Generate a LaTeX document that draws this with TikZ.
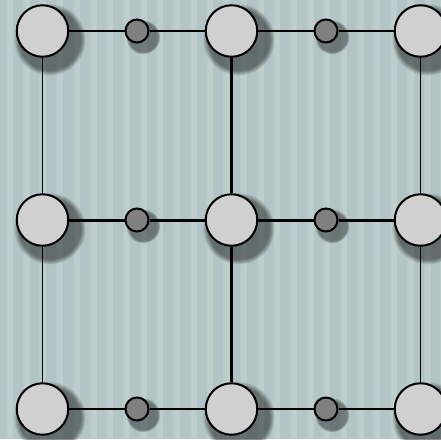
\documentclass[tikz,border=0pt]{standalone}
\usepackage{tikz}
\usetikzlibrary{positioning,shadows}
\definecolor{wallA}{RGB}{178,196,197}
\definecolor{wallB}{RGB}{189,206,205}
\definecolor{hubgray}{RGB}{208,208,208}
\definecolor{jointgray}{RGB}{128,128,128}

\begin{document}
\begin{tikzpicture}[
    x=1pt, y=-1pt,
    on grid, node distance=189pt,
    hub/.style={circle, draw=black, line width=2pt, fill=hubgray, minimum size=51.5pt, inner sep=0pt,
        circular drop shadow={shadow xshift=5pt, shadow yshift=-6pt, shadow scale=1.4,
            fill=black, opacity=0.45}},
    joint/.style={circle, draw=black, line width=2pt, fill=jointgray, minimum size=23pt, inner sep=0pt,
        circular drop shadow={shadow xshift=4pt, shadow yshift=-4pt, shadow scale=1.5,
            fill=black, opacity=0.4}},
    rim/.style={line width=1.8pt},
    spine/.style={line width=3pt}
]
    % striped wallpaper
    \useasboundingbox (0,0) rectangle (441,439);
    \clip (0,0) rectangle (441,439);
    \fill[wallA] (0,0) rectangle (441,439);
    \foreach \i in {0,...,26} {
        \fill[wallB, opacity=0.6] (\i*16.7+6,0) rectangle +(5,439);
        \fill[wallB] (\i*16.7+8,0) rectangle +(5,439);
    }

    % hubs on a 3x3 grid
    \node[hub] (a1) at (42.5,31) {};
    \node[hub, right=of a1] (a2) {};
    \node[hub, right=of a2] (a3) {};
    \node[hub, below=of a1] (b1) {};
    \node[hub, right=of b1] (b2) {};
    \node[hub, right=of b2] (b3) {};
    \node[hub, below=of b1] (c1) {};
    \node[hub, right=of c1] (c2) {};
    \node[hub, right=of c2] (c3) {};

    % joints halfway along each row
    \node[joint, right=94.5pt of a1] (ja) {};
    \node[joint, right=94.5pt of a2] (jb) {};
    \node[joint, right=94.5pt of b1] (jc) {};
    \node[joint, right=94.5pt of b2] (jd) {};
    \node[joint, right=94.5pt of c1] (je) {};
    \node[joint, right=94.5pt of c2] (jf) {};

    % rows
    \draw[rim] (a1) -- (ja) -- (a2);
    \draw[rim] (a2) -- (jb) -- (a3);
    \draw[spine] (b1) -- (jc) -- (b2);
    \draw[spine] (b2) -- (jd) -- (b3);
    \draw[rim] (c1) -- (je) -- (c2);
    \draw[rim] (c2) -- (jf) -- (c3);

    % columns
    \draw[rim] (a1) -- (b1) -- (c1);
    \draw[spine] (a2) -- (b2) -- (c2);
    \draw[rim] (a3) -- (b3) -- (c3);
\end{tikzpicture}
\end{document}
